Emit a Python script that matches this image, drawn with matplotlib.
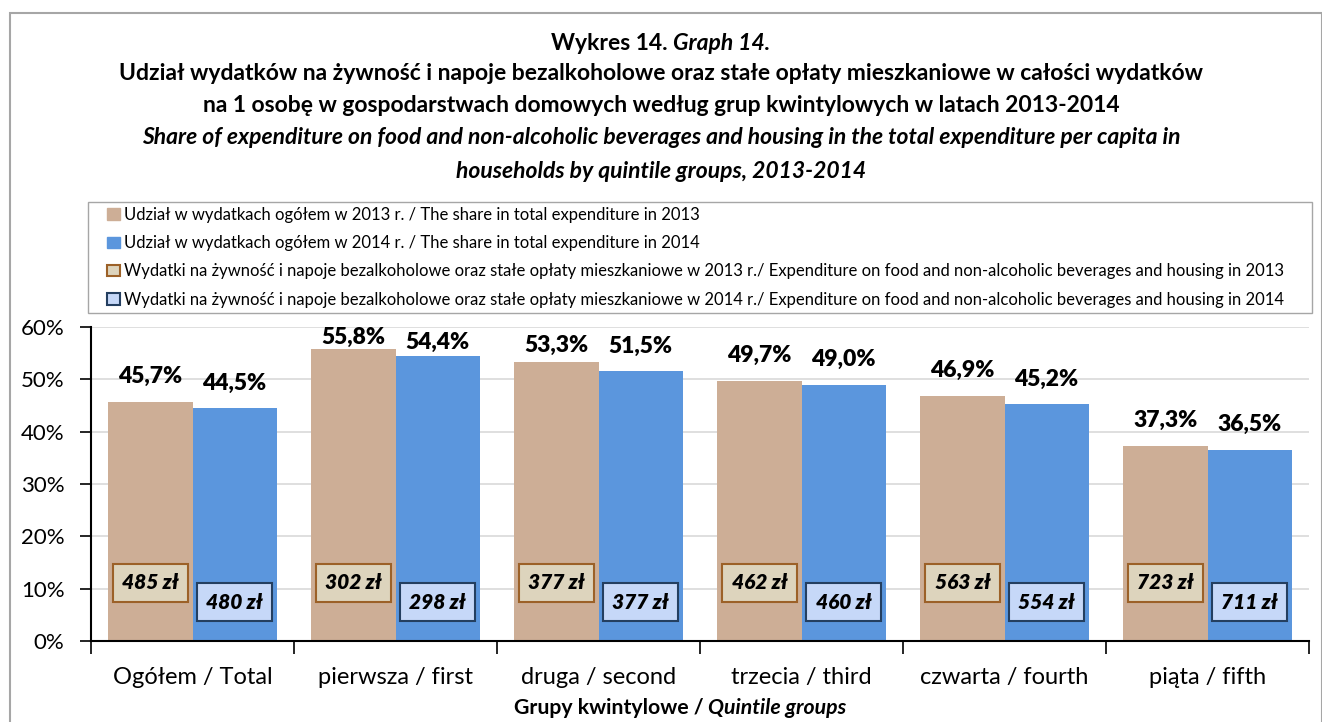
import matplotlib
matplotlib.use("Agg")
import matplotlib.pyplot as plt
from matplotlib.patches import Patch, Rectangle

plt.rcParams["font.family"] = ["Lato", "DejaVu Sans"]

# data
categories = ["Ogółem / Total", "pierwsza / first", "druga / second",
              "trzecia / third", "czwarta / fourth", "piąta / fifth"]
share_2013 = [45.7, 55.8, 53.3, 49.7, 46.9, 37.3]
share_2014 = [44.5, 54.4, 51.5, 49.0, 45.2, 36.5]
food_2013 = [485, 302, 377, 462, 563, 723]
food_2014 = [480, 298, 377, 460, 554, 711]

legend_labels = [
    "Udział w wydatkach ogółem w 2013 r. / The share in total expenditure in 2013",
    "Udział w wydatkach ogółem w 2014 r. / The share in total expenditure in 2014",
    "Wydatki na żywność i napoje bezalkoholowe oraz stałe opłaty mieszkaniowe w 2013 r./ "
    "Expenditure on food and non-alcoholic beverages and housing in 2013",
    "Wydatki na żywność i napoje bezalkoholowe oraz stałe opłaty mieszkaniowe w 2014 r./ "
    "Expenditure on food and non-alcoholic beverages and housing in 2014",
]

TAN = "#cdae96"
BLUE = "#5b96dd"
TAN_BOX = "#ddd4bd"
TAN_EDGE = "#9c6128"
BLUE_BOX = "#c6d8f8"
BLUE_EDGE = "#243f60"

W, H = 1322, 722
fig = plt.figure(figsize=(W / 100, H / 100), dpi=100)

# outer chart frame and legend frame
fig.patches.append(Rectangle((10 / W, -0.05), 1321.5 / W - 10 / W, 1.05 - 13 / H,
                             transform=fig.transFigure, fill=False,
                             edgecolor="#a6a6a6", lw=1.5))
fig.patches.append(Rectangle((88 / W, 1 - 313 / H), 1224 / W, 111 / H,
                             transform=fig.transFigure, fill=False,
                             edgecolor="#a6a6a6", lw=1.0))

ax = fig.add_axes([91 / W, 1 - 641 / H, 1218 / W, 314 / H])

x = [i + 0.5 for i in range(len(categories))]
bw = 0.414
ax.bar([v - bw / 2 for v in x], share_2013, width=bw, color=TAN, zorder=2)
ax.bar([v + bw / 2 for v in x], share_2014, width=bw, color=BLUE, zorder=2)

# value labels above bars (pushed down near the top of the plot)
for xi, a, b in zip(x, share_2013, share_2014):
    for xx, v in ((xi - bw / 2, a), (xi + bw / 2, b)):
        ly = min(v + 4.8, 56.3 + (v - 53) * 0.6) if v > 52 else v + 4.8
        ax.text(xx, ly, f"{v:.1f}%".replace(".", ","), ha="center", va="center",
                fontsize=16.5, fontweight="heavy", zorder=4)

# boxes with zł amounts
for xi, a, b in zip(x, food_2013, food_2014):
    ax.text(xi - bw / 2, 11.1, f"{a} zł", ha="center", va="center", fontsize=15,
            fontweight="heavy", fontstyle="italic", zorder=5,
            bbox=dict(boxstyle="square,pad=0.45", fc=TAN_BOX, ec=TAN_EDGE, lw=1.5))
    ax.text(xi + bw / 2, 7.4, f"{b} zł", ha="center", va="center", fontsize=15,
            fontweight="heavy", fontstyle="italic", zorder=5,
            bbox=dict(boxstyle="square,pad=0.45", fc=BLUE_BOX, ec=BLUE_EDGE, lw=1.5))

ax.set_xlim(0, 6)
ax.set_ylim(0, 60)
ax.set_yticks(range(0, 61, 10))
ax.set_yticklabels([f"{t}%" for t in range(0, 61, 10)], fontsize=16)
ax.tick_params(axis="y", length=8, width=1.2, pad=11)
ax.set_xticks(range(0, 7))
ax.set_xticklabels([])
ax.set_xticks(x, minor=True)
ax.set_xticklabels(categories, minor=True, fontsize=17)
ax.tick_params(axis="x", which="major", length=9, width=1.2)
ax.tick_params(axis="x", which="minor", length=0, pad=19)
ax.yaxis.grid(True, color="#d9d9d9", lw=1.2, zorder=0)
ax.set_axisbelow(True)
for s in ("top", "right"):
    ax.spines[s].set_visible(False)
for s in ("left", "bottom"):
    ax.spines[s].set_linewidth(1.5)

handles = [
    Patch(fc=TAN, ec=TAN),
    Patch(fc=BLUE, ec=BLUE),
    Patch(fc=TAN_BOX, ec=TAN_EDGE, lw=1.5),
    Patch(fc=BLUE_BOX, ec=BLUE_EDGE, lw=1.5),
]
fig.legend(handles, legend_labels, loc="upper left",
           bbox_to_anchor=(107 / W, 1 - 207 / H), fontsize=12, frameon=False,
           handlelength=0.8, handleheight=0.7, handletextpad=0.25,
           labelspacing=0.73, borderpad=0, borderaxespad=0)

fig.canvas.draw()
renderer = fig.canvas.get_renderer()


def mixed_line(parts, y, size, cx=0.5):
    """Draw a centered line made of several text pieces with own styles."""
    texts = [fig.text(0, y, s, fontsize=size, fontweight="bold", fontstyle=st,
                      va="center", ha="left") for s, st in parts]
    widths = [t.get_window_extent(renderer).width for t in texts]
    left = cx * W - sum(widths) / 2
    for t, w in zip(texts, widths):
        t.set_x(left / W)
        left += w


tsize = 16.5
mixed_line([("Wykres 14. ", "normal"), ("Graph 14.", "italic")], 1 - 43 / H, tsize)
mixed_line([("Udział wydatków na żywność i napoje bezalkoholowe oraz stałe opłaty "
             "mieszkaniowe w całości wydatków", "normal")], 1 - 74 / H, tsize)
mixed_line([("na 1 osobę w gospodarstwach domowych według grup kwintylowych "
             "w latach 2013-2014", "normal")], 1 - 105 / H, tsize)
mixed_line([("Share of expenditure on food and non-alcoholic beverages and housing "
             "in the total expenditure per capita in", "italic")], 1 - 138 / H, tsize)
mixed_line([("households by quintile groups, 2013-2014", "italic")], 1 - 171 / H, tsize)
mixed_line([("Grupy kwintylowe / ", "normal"), ("Quintile groups", "italic")],
           1 - 708 / H, 15.3, cx=680 / W)

fig.savefig("out.png", dpi=100)
